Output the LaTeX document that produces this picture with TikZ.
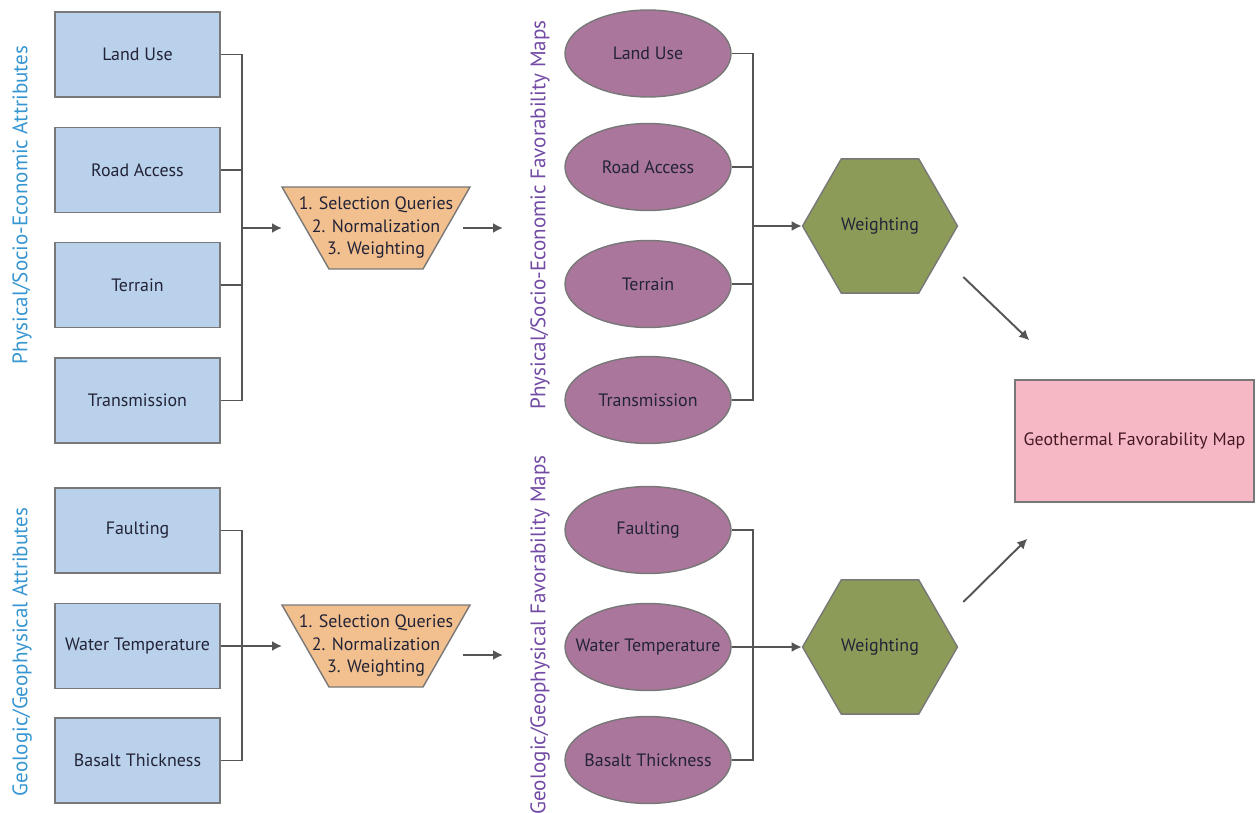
\documentclass[tikz,border=0pt]{standalone}
\usepackage{fontspec}
\setmainfont{PT Sans}
\usetikzlibrary{shapes.geometric,arrows.meta,calc}
\definecolor{boxblue}{RGB}{185,209,234}
\definecolor{edgegray}{RGB}{120,120,120}
\definecolor{linegray}{RGB}{85,85,85}
\definecolor{trapfill}{RGB}{242,192,142}
\definecolor{ovalpurple}{RGB}{170,118,155}
\definecolor{hexgreen}{RGB}{140,155,88}
\definecolor{favpink}{RGB}{246,184,196}
\definecolor{labelblue}{RGB}{55,150,210}
\definecolor{labelpurple}{RGB}{115,75,165}
\definecolor{textdark}{RGB}{35,35,55}
\tikzset{
every node/.style={font=\fontsize{10.2}{12.8}\selectfont},
attrbox/.style={
  draw=edgegray,
  fill=boxblue,
  line width=0.8pt,
  minimum width=3.3cm,
  minimum height=1.7cm,
  text=textdark
  },
mapoval/.style={
  ellipse,
  draw=edgegray,
  fill=ovalpurple,
  line width=0.8pt,
  inner xsep=-0.4cm,
  inner ysep=0pt,
  minimum width=3.32cm,
  minimum height=1.74cm,
  text=textdark
  },
trapshape/.style={
  draw=edgegray,
  fill=trapfill,
  line width=0.8pt
  },
querytext/.style={
  inner sep=0pt,
  align=center,
  text=textdark
  },
weighthex/.style={
  regular polygon,
  regular polygon sides=6,
  draw=edgegray,
  fill=hexgreen,
  line width=0.8pt,
  inner sep=0pt,
  minimum size=3.1cm,
  text=textdark
  },
bus/.style={draw=linegray, line width=1.1pt},
arr/.style={bus, -{Latex[length=2mm,width=2mm]}},
sidelabel/.style={rotate=90, font=\large}
}

\begin{document}
\begin{tikzpicture}[x=0.02cm, y=-0.02cm]
  \useasboundingbox (0,0) rectangle (1256,813);

  % side labels
  \node[sidelabel, text=labelblue]   (physAttr) at (22,205) {Physical/Socio-Economic Attributes};
  \node[sidelabel, text=labelblue]   (geoAttr)  at (22,652) {Geologic/Geophysical Attributes};
  \node[sidelabel, text=labelpurple] (physMaps) at (540,215) {Physical/Socio-Economic Favorability Maps};
  \node[sidelabel, text=labelpurple] (geoMaps)  at (540,635) {Geologic/Geophysical Favorability Maps};

  % input attributes
  \node[attrbox] (landuse)      at (137.5,54.5)  {Land Use};
  \node[attrbox] (roadaccess)   at (137.5,170)   {Road Access};
  \node[attrbox] (terrain)      at (137.5,285)   {Terrain};
  \node[attrbox] (transmission) at (137.5,400.5) {Transmission};

  \node[attrbox] (faulting)  at (137.5,530.5) {Faulting};
  \node[attrbox] (watertemp) at (137.5,646)   {Water Temperature};
  \node[attrbox] (basalt)    at (137.5,760.5) {Basalt Thickness};

  % processing
  \coordinate (qA) at (376,228);
  \coordinate (qB) at (376,646);
  \draw[trapshape] ($(qA)+(-94,-41)$) -- ($(qA)+(94,-41)$) -- ($(qA)+(47,41)$) -- ($(qA)+(-47,41)$) -- cycle;
  \draw[trapshape] ($(qB)+(-94,-41)$) -- ($(qB)+(94,-41)$) -- ($(qB)+(47,41)$) -- ($(qB)+(-47,41)$) -- cycle;
  \node[querytext] (queryA) at (qA) {1. Selection Queries\\2. Normalization\\3. Weighting};
  \node[querytext] (queryB) at (qB) {1. Selection Queries\\2. Normalization\\3. Weighting};

  % favorability maps
  \node[mapoval] (mLanduse)      at (648,53.5) {Land Use};
  \node[mapoval] (mRoadaccess)   at (648,167)  {Road Access};
  \node[mapoval] (mTerrain)      at (648,284)  {Terrain};
  \node[mapoval] (mTransmission) at (648,400)  {Transmission};

  \node[mapoval] (mFaulting)  at (648,530) {Faulting};
  \node[mapoval] (mWatertemp) at (648,647) {Water Temperature};
  \node[mapoval] (mBasalt)    at (648,760) {Basalt Thickness};

  \node[weighthex] (hexA) at (880,226) {Weighting};
  \node[weighthex] (hexB) at (880,647) {Weighting};

  \node[draw=edgegray, fill=favpink, line width=0.8pt, minimum width=4.78cm, minimum height=2.44cm, text={rgb,255:red,70;green,25;blue,35}]
    (fav) at (1134.5,441) {Geothermal Favorability Map};

  % connectors
  \coordinate (busA) at (242,228);
  \coordinate (busC) at (242,646);
  \coordinate (busB) at (753,226);
  \coordinate (busD) at (753,647);
  \coordinate (mapsA) at (503,228);
  \coordinate (mapsB) at (503,655);

  \draw[bus] (landuse.east) -| (busA) |- (transmission.east);
  \draw[bus] (roadaccess.east) -- (roadaccess.east -| busA);
  \draw[bus] (terrain.east) -- (terrain.east -| busA);
  \draw[arr] (busA) -- ($(queryA.center)+(-94,0)$);
  \draw[arr] ($(queryA.center)+(87,0)$) -- (mapsA);

  \draw[bus] (faulting.east) -| (busC) |- (basalt.east);
  \draw[arr] (watertemp.east) -- ($(queryB.center)+(-94,0)$);
  \draw[arr] ($(mapsB)+(-40,0)$) -- (mapsB);

  \draw[bus] (mLanduse.east) -| (busB) |- (mTransmission.east);
  \draw[bus] (mRoadaccess.east) -- (mRoadaccess.east -| busB);
  \draw[bus] (mTerrain.east) -- (mTerrain.east -| busB);
  \draw[arr] (busB) -- (hexA.west);

  \draw[bus] (mFaulting.east) -| (busD) |- (mBasalt.east);
  \draw[arr] (mWatertemp.east) -- (hexB.west);

  \draw[arr] ([shift={(5,51)}]hexA.east) -- ([shift={(15,-39)}]fav.north west);
  \draw[arr] ([shift={(5,-45)}]hexB.east) -- ([shift={(13,36)}]fav.south west);

\end{tikzpicture}
\end{document}
